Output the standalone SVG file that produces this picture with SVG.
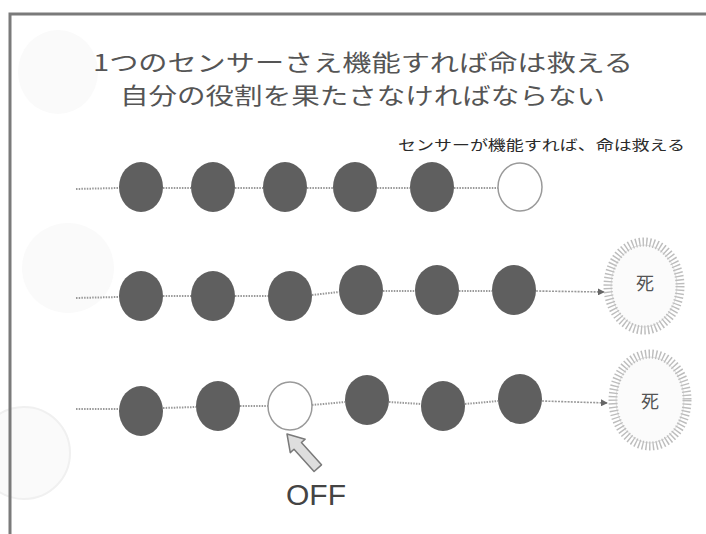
<svg xmlns="http://www.w3.org/2000/svg" width="706" height="534" viewBox="0 0 706 534">
  <defs>
    <style>
      .title { font-family: "Noto Sans CJK JP", "Noto Sans", sans-serif; font-size: 22.5px; fill: #555; text-anchor: middle; }
      .sub { font-family: "Noto Sans CJK JP", sans-serif; font-size: 14px; fill: #2a2a2a; }
      .on { fill: #5f5f5f; }
      .off { fill: #fff; stroke: #9a9a9a; stroke-width: 1.5; }
      .conn { stroke: #999; stroke-width: 2; stroke-dasharray: 1.5 1.2; fill: none; }
      .arr { stroke: #999; stroke-width: 1.6; stroke-dasharray: 2 1.2; fill: none; marker-end: url(#ah); }
      .burst-spikes { fill: none; stroke: #bdbdbd; stroke-width: 9; stroke-dasharray: 1.4 2.2; }
      .burst-core { fill: #fbfbfb; stroke: #e2e2e2; stroke-width: 1; }
      .death { font-family: "Noto Sans CJK JP", serif; font-size: 18px; fill: #555; text-anchor: middle; }
      .deco { fill: #fafafa; stroke: #f0f0f0; stroke-width: 2; }
    </style>
    <marker id="ah" viewBox="0 0 8 8" refX="7" refY="4" markerWidth="7" markerHeight="7" markerUnits="userSpaceOnUse" orient="auto">
      <path d="M0,0 L8,4 L0,8 Z" fill="#666"/>
    </marker>
  </defs>

  <rect width="706" height="534" fill="#fff"/>

  <!-- faint background decorations -->
  <g id="decorations">
    <ellipse class="deco" cx="58" cy="72" rx="40" ry="42" style="stroke:none"/>
    <ellipse class="deco" cx="68" cy="268" rx="46" ry="45" style="stroke:none"/>
    <circle class="deco" cx="24" cy="453" r="46"/>
  </g>

  <!-- frame -->
  <path d="M10,534 V14 H706" fill="none" stroke="#7a7a7a" stroke-width="3"/>

  <g id="title">
    <text class="title" x="363" y="71" textLength="540" lengthAdjust="spacingAndGlyphs">1つのセンサーさえ機能すれば命は救える</text>
    <text class="title" x="362.5" y="104" textLength="485" lengthAdjust="spacingAndGlyphs">自分の役割を果たさなければならない</text>
  </g>

  <g id="label-row1">
    <text class="sub" x="398" y="150" textLength="287" lengthAdjust="spacingAndGlyphs">センサーが機能すれば、命は救える</text>
  </g>

  <!-- connectors -->
  <g id="connectors">
    <!-- row 1 -->
    <line class="conn" x1="76" y1="189" x2="119" y2="188"/>
    <line class="conn" x1="163" y1="188" x2="191" y2="188"/>
    <line class="conn" x1="235" y1="188" x2="263" y2="188"/>
    <line class="conn" x1="307" y1="188" x2="333" y2="188"/>
    <line class="conn" x1="377" y1="188" x2="410" y2="188"/>
    <line class="conn" x1="454" y1="188" x2="498" y2="188"/>
    <!-- row 2 -->
    <line class="conn" x1="76" y1="298" x2="119" y2="297"/>
    <line class="conn" x1="163" y1="296" x2="191" y2="296"/>
    <line class="conn" x1="235" y1="296" x2="268" y2="296"/>
    <line class="conn" x1="312" y1="295" x2="339" y2="292"/>
    <line class="conn" x1="383" y1="291" x2="415" y2="291"/>
    <line class="conn" x1="459" y1="291" x2="492" y2="291"/>
    <line class="arr" x1="536" y1="291" x2="604" y2="292"/>
    <!-- row 3 -->
    <line class="conn" x1="76" y1="409" x2="119" y2="409"/>
    <line class="conn" x1="163" y1="408" x2="196" y2="407"/>
    <line class="conn" x1="240" y1="406" x2="268" y2="406"/>
    <line class="conn" x1="312" y1="405" x2="345" y2="402"/>
    <line class="conn" x1="389" y1="402" x2="421" y2="404"/>
    <line class="conn" x1="465" y1="404" x2="498" y2="401"/>
    <line class="arr" x1="542" y1="401" x2="607" y2="403"/>
  </g>

  <!-- row 1 nodes -->
  <g id="r1n1"><ellipse class="on" cx="141" cy="187" rx="22" ry="25"/></g>
  <g id="r1n2"><ellipse class="on" cx="213" cy="187" rx="22" ry="25"/></g>
  <g id="r1n3"><ellipse class="on" cx="285" cy="187" rx="22" ry="25"/></g>
  <g id="r1n4"><ellipse class="on" cx="355" cy="187" rx="22" ry="25"/></g>
  <g id="r1n5"><ellipse class="on" cx="432" cy="187" rx="22" ry="25"/></g>
  <g id="r1n6"><ellipse class="off" cx="520" cy="187" rx="22" ry="24"/></g>

  <!-- row 2 nodes -->
  <g id="r2n1"><ellipse class="on" cx="141" cy="296" rx="22" ry="25"/></g>
  <g id="r2n2"><ellipse class="on" cx="213" cy="296" rx="22" ry="25"/></g>
  <g id="r2n3"><ellipse class="on" cx="290" cy="296" rx="22" ry="25"/></g>
  <g id="r2n4"><ellipse class="on" cx="361" cy="290" rx="22" ry="25"/></g>
  <g id="r2n5"><ellipse class="on" cx="437" cy="290" rx="22" ry="25"/></g>
  <g id="r2n6"><ellipse class="on" cx="514" cy="290" rx="22" ry="25"/></g>
  <g id="r2death">
    <ellipse class="burst-core" cx="644" cy="286" rx="33" ry="41"/>
    <ellipse class="burst-spikes" cx="644" cy="286" rx="36" ry="44"/>
    <text class="death" x="645" y="290">死</text>
  </g>

  <!-- row 3 nodes -->
  <g id="r3n1"><ellipse class="on" cx="141" cy="411" rx="22" ry="25"/></g>
  <g id="r3n2"><ellipse class="on" cx="218" cy="406" rx="22" ry="25"/></g>
  <g id="r3n3"><ellipse class="off" cx="290" cy="406" rx="22" ry="24"/></g>
  <g id="r3n4"><ellipse class="on" cx="367" cy="400" rx="22" ry="25"/></g>
  <g id="r3n5"><ellipse class="on" cx="443" cy="406" rx="22" ry="25"/></g>
  <g id="r3n6"><ellipse class="on" cx="520" cy="399" rx="22" ry="25"/></g>
  <g id="r3death">
    <ellipse class="burst-core" cx="650" cy="400" rx="34" ry="43"/>
    <ellipse class="burst-spikes" cx="650" cy="400" rx="37" ry="46"/>
    <text class="death" x="650" y="408">死</text>
  </g>

  <!-- OFF pointer -->
  <g id="off-pointer">
    <polygon transform="translate(287,434) rotate(-42)" points="0,0 10,16 5,16 5,46 -5,46 -5,16 -10,16" fill="#dedede" stroke="#7a7a7a" stroke-width="1.5" stroke-linejoin="round"/>
    <text x="316" y="505" font-family="Liberation Sans, Arial, sans-serif" font-size="30" fill="#444" text-anchor="middle">OFF</text>
  </g>
</svg>
